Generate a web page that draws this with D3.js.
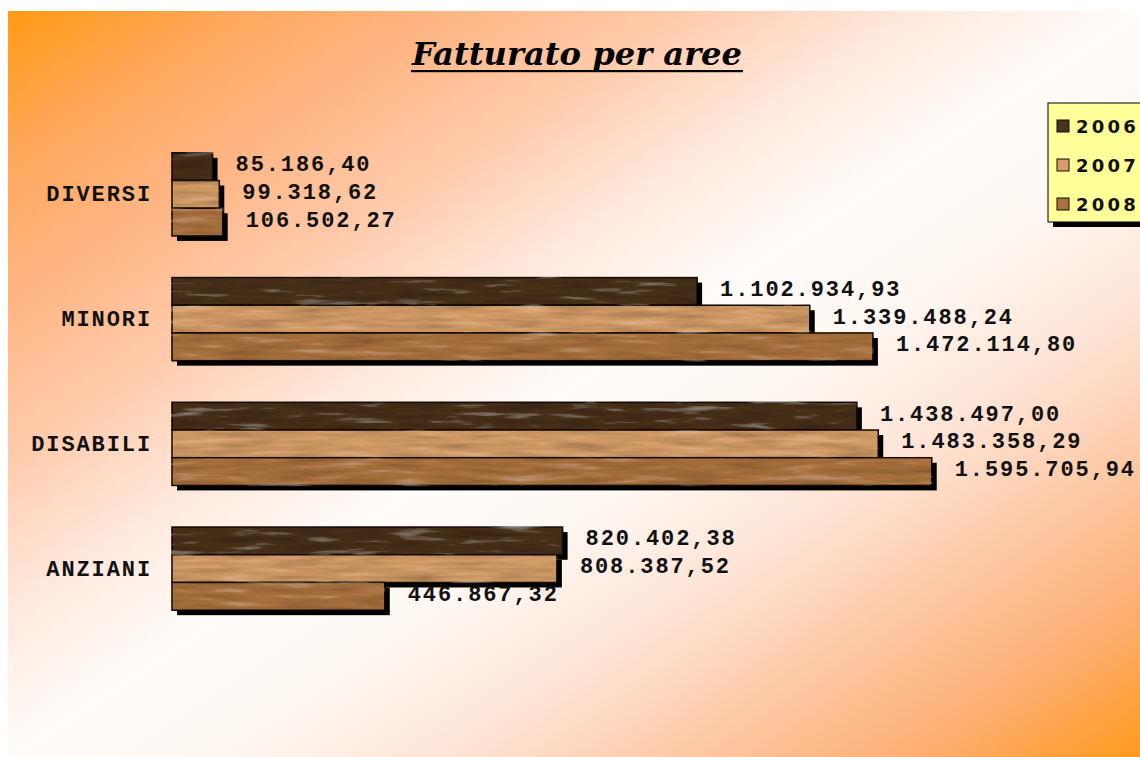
<!DOCTYPE html>
<html>
<head>
<meta charset="utf-8">
<script src="https://cdn.jsdelivr.net/npm/d3@7"></script>
<style>
  html, body { margin: 0; padding: 0; background: #ffffff; }
  svg { display: block; }
</style>
</head>
<body>
<svg id="chart" width="1140" height="757"></svg>
<script>
// Fatturato per aree – 2006 / 2007 / 2008
const categories = ["DIVERSI", "MINORI", "DISABILI", "ANZIANI"];
const years = ["2006", "2007", "2008"];
const values2006 = [85186.40, 1102934.93, 1438497.00, 820402.38];
const values2007 = [99318.62, 1339488.24, 1483358.29, 808387.52];
const values2008 = [106502.27, 1472114.80, 1595705.94, 446867.32];
const seriesValues = [values2006, values2007, values2008];
const xDomainMax = 1800000;

const W = 1140, H = 757;
const svg = d3.select("#chart");
const defs = svg.append("defs");

// Diagonal orange / white background
const bg = defs.append("linearGradient").attr("id", "bgGrad")
  .attr("x1", 0).attr("y1", 0).attr("x2", 1).attr("y2", 1);
[[0, "#ff9a12"], [0.1, "#ffa75c"], [0.2, "#ffb685"], [0.3, "#ffcbac"],
 [0.4, "#ffe8dc"], [0.5, "#fffcfa"], [0.6, "#fff6f0"], [0.7, "#fee3d4"],
 [0.8, "#fdc8a4"], [0.9, "#fdae72"], [1, "#ff9a1e"]]
  .forEach(([o, c]) => bg.append("stop").attr("offset", o).attr("stop-color", c));

svg.append("rect").attr("x", 8).attr("y", 11).attr("width", W - 8).attr("height", H - 11)
  .attr("fill", "url(#bgGrad)");

// Wood grain filter: soft horizontal streaky noise laid over the bar colour
const wood = defs.append("filter").attr("id", "wood")
  .attr("filterUnits", "objectBoundingBox")
  .attr("x", -0.05).attr("y", -0.1).attr("width", 1.1).attr("height", 1.2)
  .attr("primitiveUnits", "userSpaceOnUse");
wood.append("feTurbulence").attr("type", "fractalNoise")
  .attr("baseFrequency", "0.018 0.16").attr("numOctaves", 3).attr("seed", 7).attr("result", "noise");
wood.append("feColorMatrix").attr("in", "noise").attr("type", "matrix")
  .attr("values", "0 0 0 0 0  0 0 0 0 0  0 0 0 0 0  0.8 0 0 0 -0.3").attr("result", "dark");
wood.append("feComposite").attr("in", "dark").attr("in2", "SourceGraphic").attr("operator", "in").attr("result", "darkIn");
wood.append("feColorMatrix").attr("in", "noise").attr("type", "matrix")
  .attr("values", "0 0 0 0 1  0 0 0 0 0.9  0 0 0 0 0.75  -0.7 0 0 0 0.27").attr("result", "light");
wood.append("feComposite").attr("in", "light").attr("in2", "SourceGraphic").attr("operator", "in").attr("result", "lightIn");
const merge = wood.append("feMerge");
merge.append("feMergeNode").attr("in", "SourceGraphic");
merge.append("feMergeNode").attr("in", "darkIn");
merge.append("feMergeNode").attr("in", "lightIn");

const colors = d3.scaleOrdinal().domain(years).range(["#48321f", "#d39c68", "#aa723f"]);

// Scales
const x = d3.scaleLinear().domain([0, xDomainMax]).range([172, 1029]);
const y0 = d3.scaleBand().domain(categories).range([132, 631]).paddingInner(0.334).paddingOuter(0.167);
const y1 = d3.scaleBand().domain(years).range([0, y0.bandwidth()]);

const fmt = v => {
  const s = v.toFixed(2).split(".");
  return s[0].replace(/\B(?=(\d{3})+(?!\d))/g, ".") + "," + s[1];
};

const rows = [];
categories.forEach((c, i) => years.forEach((yr, j) => rows.push({ cat: c, year: yr, value: seriesValues[j][i] })));

const plot = svg.append("g");

// Drop shadows first, then the bars on top
plot.selectAll("rect.shadow").data(rows).join("rect").attr("class", "shadow")
  .attr("x", x(0) + 5)
  .attr("y", d => y0(d.cat) + y1(d.year) + 5)
  .attr("width", d => x(d.value) - x(0))
  .attr("height", y1.bandwidth())
  .attr("fill", "#000");

plot.selectAll("rect.bar").data(rows).join("rect").attr("class", "bar")
  .attr("x", x(0))
  .attr("y", d => y0(d.cat) + y1(d.year))
  .attr("width", d => x(d.value) - x(0))
  .attr("height", y1.bandwidth())
  .attr("fill", d => colors(d.year))
  .attr("stroke", "#1a120c").attr("stroke-width", 1.5)
  .attr("filter", "url(#wood)");

// Value labels
plot.selectAll("text.val").data(rows).join("text").attr("class", "val")
  .attr("x", d => x(d.value) + 23)
  .attr("y", d => y0(d.cat) + y1(d.year) + y1.bandwidth() / 2 - 1)
  .attr("dominant-baseline", "central")
  .attr("font-family", "'Liberation Mono', 'Courier New', monospace")
  .attr("font-weight", "bold").attr("font-size", 22).attr("letter-spacing", 1.9)
  .attr("fill", "#111")
  .text(d => fmt(d.value));

// Category axis labels
const yAxis = d3.axisLeft(y0).tickSize(0).tickPadding(0);
const yAxisG = svg.append("g").attr("transform", "translate(152,0)").call(yAxis);
yAxisG.select(".domain").remove();
yAxisG.selectAll("text")
  .attr("font-family", "'Liberation Mono', 'Courier New', monospace")
  .attr("font-weight", "bold").attr("font-size", 22).attr("letter-spacing", 1.9)
  .attr("fill", "#111").attr("dy", "0.32em");

// Title
const title = svg.append("text")
  .attr("x", 577).attr("y", 65).attr("text-anchor", "middle")
  .attr("font-family", "'DejaVu Serif', serif").attr("font-weight", "bold").attr("font-style", "italic")
  .attr("font-size", 31).attr("textLength", 330).attr("lengthAdjust", "spacingAndGlyphs")
  .attr("fill", "#000")
  .text("Fatturato per aree");
svg.append("rect").attr("x", 577 - 166).attr("y", 70).attr("width", 332).attr("height", 2.2).attr("fill", "#000");

// Legend
const lg = svg.append("g").attr("transform", "translate(1048,103)");
lg.append("rect").attr("x", 5).attr("y", 5).attr("width", 100).attr("height", 119).attr("fill", "#000");
lg.append("rect").attr("x", 0).attr("y", 0).attr("width", 100).attr("height", 119)
  .attr("fill", "#ffff99").attr("stroke", "#000").attr("stroke-width", 1);
const ly = d3.scalePoint().domain(years).range([23, 101]);
const items = lg.selectAll("g.item").data(years).join("g").attr("class", "item")
  .attr("transform", d => `translate(0,${ly(d)})`);
items.append("rect").attr("x", 9).attr("y", -6).attr("width", 12).attr("height", 12)
  .attr("fill", d => colors(d)).attr("stroke", "#111").attr("stroke-width", 1);
items.append("text").attr("x", 28).attr("y", 0).attr("dominant-baseline", "central")
  .attr("font-family", "'DejaVu Sans', Verdana, sans-serif").attr("font-weight", "bold")
  .attr("font-size", 18).attr("letter-spacing", 3.2).attr("fill", "#111")
  .text(d => d);
</script>
</body>
</html>
